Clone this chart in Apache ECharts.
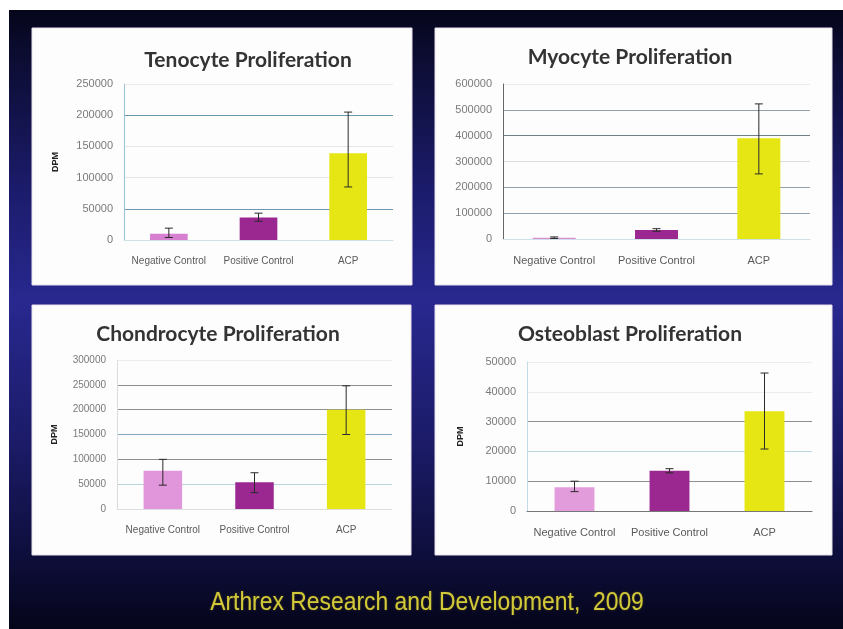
<!DOCTYPE html>
<html>
<head>
<meta charset="utf-8">
<script src="https://cdn.jsdelivr.net/npm/echarts@6/dist/echarts.min.js"></script>
<style>
html,body{margin:0;padding:0;background:#fff;}
#chart{width:843px;height:629px;}
</style>
</head>
<body>
<div id="chart"></div>
<script>
// ---- Data ----
var categories = ['Negative Control', 'Positive Control', 'ACP'];

var tenoValues = [10000, 36000, 139000];
var tenoLow    = [4000, 30000, 85000];
var tenoHigh   = [19000, 43000, 205000];
var tenoTicks  = [0, 50000, 100000, 150000, 200000, 250000];

var myoValues = [5000, 35000, 390000];
var myoLow    = [2000, 30000, 252000];
var myoHigh   = [8000, 40000, 523000];
var myoTicks  = [0, 100000, 200000, 300000, 400000, 500000, 600000];

var chondroValues = [77000, 54000, 200000];
var chondroLow    = [48000, 33000, 150000];
var chondroHigh   = [100000, 73000, 248000];
var chondroTicks  = [0, 50000, 100000, 150000, 200000, 250000, 300000];

var osteoValues = [8000, 13500, 33500];
var osteoLow    = [6500, 12800, 20800];
var osteoHigh   = [10000, 14200, 46300];
var osteoTicks  = [0, 10000, 20000, 30000, 40000, 50000];

var titles = ['Tenocyte Proliferation', 'Myocyte Proliferation', 'Chondrocyte Proliferation', 'Osteoblast Proliferation'];
var yName = 'DPM';
var footer = 'Arthrex Research and Development,  2009';

// ---- Styles ----
var barColors = [
  ['#d77fd0', '#9a2890', '#e6e614'],
  ['#d990d2', '#9a2890', '#e6e614'],
  ['#e195da', '#9a2890', '#e6e614'],
  ['#e39cdb', '#9a2890', '#e6e614']
];
var panels = [
  {x: 32, y: 28, w: 380, h: 257},
  {x: 435, y: 28, w: 397, h: 257},
  {x: 32, y: 305, w: 379, h: 250},
  {x: 435, y: 305, w: 397, h: 250}
];
var grids = [
  {left: 124, top: 84, width: 269, height: 156},
  {left: 503, top: 84, width: 307, height: 155},
  {left: 117, top: 360, width: 275, height: 149},
  {left: 527, top: 362, width: 285, height: 149}
];
var titlePos = [{x: 243, y: 45}, {x: 625, y: 42}, {x: 213, y: 319}, {x: 625, y: 319}];
var splitColors = [
  ['#bbb', '#6b94ad', '#e6e6e6', '#e6e6e6', '#6b94ad', '#ececec'],
  ['#bbb', '#8fa0ab', '#8fa0ab', '#dcdcdc', '#6f7f88', '#8fa0ab', '#ececec'],
  ['#bbb', '#b9d3e0', '#8f8f8f', '#7fa7bf', '#8f8f8f', '#8f8f8f', '#ececec'],
  ['#777', '#8f8f8f', '#bcd6e3', '#8f8f8f', '#ececec', '#ececec']
];
var axisLineColors = ['#9cc3d6', '#666', '#dcdcdc', '#c3dbe6'];
var xAxisLineColors = ['#cfdfe8', '#cfdfe8', '#dddddd', '#777'];
var showName = [true, false, true, true];
var nameGaps = [64, 0, 58, 62];
var yLabelSize = [11, 11, 10, 11];
var xLabelSize = [10, 11, 10, 11];

var valueSets = [tenoValues, myoValues, chondroValues, osteoValues];
var lowSets = [tenoLow, myoLow, chondroLow, osteoLow];
var highSets = [tenoHigh, myoHigh, chondroHigh, osteoHigh];
var tickSets = [tenoTicks, myoTicks, chondroTicks, osteoTicks];

var chart = echarts.init(document.getElementById('chart'), null, {renderer: 'canvas'});

var graphic = [
  {type: 'rect', shape: {x: 0, y: 0, width: 843, height: 629}, style: {fill: '#ffffff'}, z: -20},
  {type: 'rect', shape: {x: 9, y: 10, width: 834, height: 619}, z: -19,
    style: {fill: new echarts.graphic.LinearGradient(0, 0, 0, 1, [
      {offset: 0, color: '#05051a'},
      {offset: 0.06, color: '#0b0b2e'},
      {offset: 0.3, color: '#1c1c6e'},
      {offset: 0.47, color: '#28288f'},
      {offset: 0.7, color: '#1b1b68'},
      {offset: 0.88, color: '#0e0e3c'},
      {offset: 1, color: '#05051a'}
    ])}}
];
panels.forEach(function (p) {
  graphic.push({type: 'rect', shape: {x: p.x, y: p.y, width: p.w, height: p.h}, z: -18,
    style: {fill: '#fdfdfd', stroke: '#e9dfe9', lineWidth: 1}});
});
graphic.push({type: 'text', x: 427, y: 603, scaleX: 0.88, z: 5,
  style: {text: footer, x: 0, y: 0, align: 'center', verticalAlign: 'middle', fill: '#d2c93a',
    font: '26px "Liberation Sans", sans-serif',
    textShadowColor: 'rgba(120,110,0,0.6)', textShadowBlur: 2}});

var title = [], grid = [], xAxis = [], yAxis = [], series = [];
for (var i = 0; i < 4; i++) {
  title.push({text: titles[i], left: titlePos[i].x, top: titlePos[i].y, textAlign: 'center',
    textStyle: {fontFamily: 'Lato, "Open Sans", sans-serif', fontWeight: 'bold', fontSize: 21, color: '#333'}});
  grid.push({left: grids[i].left, top: grids[i].top, width: grids[i].width, height: grids[i].height, containLabel: false});
  xAxis.push({type: 'category', gridIndex: i, data: categories,
    axisTick: {show: false},
    axisLine: {show: true, lineStyle: {color: xAxisLineColors[i], width: 1}},
    axisLabel: {interval: 0, margin: 16, fontSize: xLabelSize[i], color: '#5a5a5a', fontFamily: '"Liberation Sans", sans-serif'}});
  var t = tickSets[i];
  yAxis.push({type: 'value', gridIndex: i, min: t[0], max: t[t.length - 1], interval: t[1] - t[0],
    name: showName[i] ? yName : '', nameLocation: 'middle', nameRotate: 90, nameGap: nameGaps[i],
    nameTextStyle: {fontSize: 9, fontWeight: 'bold', color: '#222', fontFamily: '"Liberation Sans", sans-serif'},
    axisLine: {show: true, lineStyle: {color: axisLineColors[i], width: 1}},
    axisTick: {show: false},
    splitLine: {show: true, lineStyle: {color: splitColors[i], width: 1}},
    axisLabel: {fontSize: yLabelSize[i], color: '#7a7a7a', margin: 11, fontFamily: '"Liberation Sans", sans-serif',
      formatter: function (v) { return String(v); }}});
  (function (idx) {
    series.push({type: 'bar', xAxisIndex: idx, yAxisIndex: idx, barWidth: '42%',
      data: valueSets[idx].map(function (v, k) { return {value: v, itemStyle: {color: barColors[idx][k]}}; }),
      z: 2});
    series.push({type: 'custom', xAxisIndex: idx, yAxisIndex: idx, z: 5,
      data: categories.map(function (c, k) { return [k, lowSets[idx][k], highSets[idx][k]]; }),
      renderItem: function (params, api) {
        var lo = api.coord([api.value(0), api.value(1)]);
        var hi = api.coord([api.value(0), api.value(2)]);
        var hw = 4;
        var st = {stroke: '#2a2a2a', lineWidth: 1};
        return {type: 'group', children: [
          {type: 'line', shape: {x1: lo[0], y1: lo[1], x2: hi[0], y2: hi[1]}, style: st},
          {type: 'line', shape: {x1: hi[0] - hw, y1: hi[1], x2: hi[0] + hw, y2: hi[1]}, style: st},
          {type: 'line', shape: {x1: lo[0] - hw, y1: lo[1], x2: lo[0] + hw, y2: lo[1]}, style: st}
        ]};
      }});
  })(i);
}

chart.setOption({
  animation: false,
  graphic: graphic,
  title: title,
  grid: grid,
  xAxis: xAxis,
  yAxis: yAxis,
  series: series
});
</script>
</body>
</html>
